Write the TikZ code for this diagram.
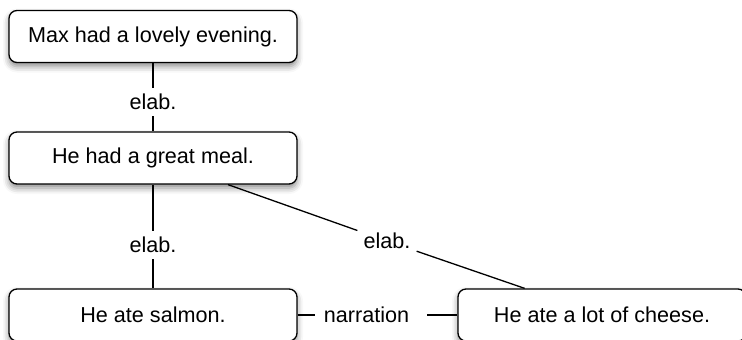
\documentclass[tikz,border=0pt]{standalone}
\usepackage{fontspec}
\setmainfont{Liberation Sans}
\usetikzlibrary{shadows.blur}
\begin{document}
\begin{tikzpicture}[x=1pt,y=-1pt,
  box/.style={draw, line width=1.3pt, rounded corners=8pt, fill=white,
    minimum width=288pt, minimum height=52pt, inner sep=0pt,
    font=\fontsize{21.6}{25}\selectfont,
    blur shadow={shadow xshift=0pt, shadow yshift=-4pt, shadow blur radius=6pt, shadow opacity=45}},
  lbl/.style={inner sep=6pt, font=\fontsize{21.6}{25}\selectfont},
  conn/.style={line width=1.3pt}]
\useasboundingbox (0,0) rectangle (742,340);
\clip (0,0) rectangle (742,340);
\node[box] (top) at (153,36.5) {Max had a lovely evening.};
\node[box] (mid) at (153,158) {He had a great meal.};
\node[box] (salmon) at (153,315) {He ate salmon.};
\node[box] (cheese) at (602,315) {He ate a lot of cheese.};
\node[lbl] (l1) at (153,102) {elab.};
\node[lbl] (l2) at (153,245) {elab.};
\node[lbl] (l3) at (387,241) {elab.};
\node[lbl, inner sep=9pt] (l4) at (366.5,315) {narration};
\draw[conn] (top) -- (l1) -- (mid);
\draw[conn] (mid) -- (l2) -- (salmon);
\draw[conn] (mid) -- (l3) -- (cheese);
\draw[conn] (salmon.east) -- (l4.west);
\draw[conn] ([xshift=9pt]l4.east) -- (cheese.west);
\end{tikzpicture}
\end{document}
